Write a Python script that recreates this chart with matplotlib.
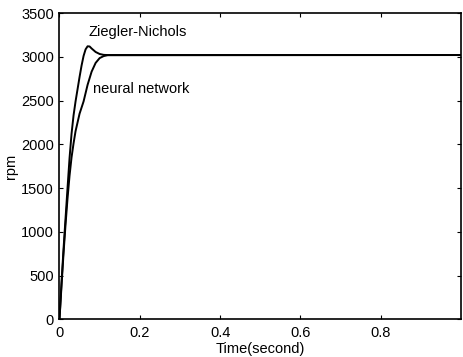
import matplotlib
matplotlib.use("Agg")
import matplotlib.pyplot as plt

plt.rcParams["font.family"] = ["Liberation Sans", "DejaVu Sans"]

# step responses (time in seconds, speed in rpm)
zn_time = [0, 0.005, 0.01, 0.015, 0.02, 0.025, 0.03, 0.035, 0.04, 0.045,
           0.05, 0.055, 0.06, 0.065, 0.07, 0.075, 0.08, 0.09, 0.1, 0.11, 0.12, 1.0]
zn_rpm = [0, 420, 800, 1150, 1500, 1840, 2120, 2330, 2490, 2630,
          2770, 2900, 3010, 3085, 3120, 3118, 3095, 3055, 3032, 3022, 3020, 3020]

nn_time = [0, 0.005, 0.01, 0.015, 0.02, 0.025, 0.03, 0.035, 0.04, 0.05,
           0.06, 0.07, 0.08, 0.09, 0.1, 0.11, 0.12, 1.0]
nn_rpm = [0, 380, 750, 1080, 1380, 1640, 1850, 2010, 2150, 2350,
          2490, 2680, 2830, 2930, 2985, 3008, 3018, 3020]

x_ticks = [0, 0.2, 0.4, 0.6, 0.8]
x_labels = ["0", "0.2", "0.4", "0.6", "0.8"]
y_ticks = [0, 500, 1000, 1500, 2000, 2500, 3000, 3500]

fig = plt.figure(figsize=(4.63, 3.57), dpi=100)
ax = fig.add_axes([0.1285, 0.1055, 0.867, 0.858])

ax.plot(zn_time, zn_rpm, color="black", linewidth=1.4)
ax.plot(nn_time, nn_rpm, color="black", linewidth=1.4)

ax.text(0.073, 3285, "Ziegler-Nichols", fontsize=10.5, ha="left", va="center")
ax.text(0.083, 2635, "neural network", fontsize=10.5, ha="left", va="center")

ax.set_xlim(0, 1)
ax.set_ylim(0, 3500)
ax.set_xticks(x_ticks)
ax.set_xticklabels(x_labels)
ax.set_yticks(y_ticks)
ax.tick_params(direction="in", top=True, right=True, labelsize=10.5, length=3)
ax.tick_params(axis="x", pad=5)
ax.tick_params(axis="y", pad=4)
for s in ax.spines.values():
    s.set_linewidth(1.2)

ax.set_xlabel("Time(second)", fontsize=10.5, labelpad=1)
ax.set_ylabel("rpm", fontsize=10.5, labelpad=2)

fig.savefig("out.png", dpi=100)
